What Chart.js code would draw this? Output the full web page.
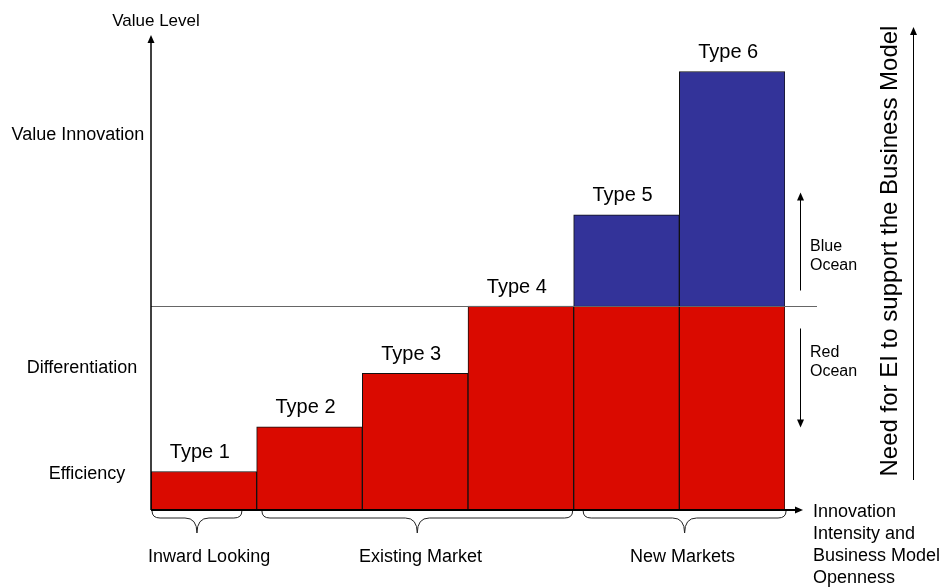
<!DOCTYPE html>
<html>
<head>
<meta charset="utf-8">
<script src="https://cdn.jsdelivr.net/npm/chart.js@4.4.1/dist/chart.umd.min.js"></script>
<style>
  html, body { margin: 0; padding: 0; background: #fff; }
  .wrap { position: relative; width: 943px; height: 588px; }
</style>
</head>
<body>
<div class="wrap"><canvas class="chart"></canvas></div>
<script>
// categories and stacked values (value-level units, 0..100)
const types = ['Type 1', 'Type 2', 'Type 3', 'Type 4', 'Type 5', 'Type 6'];
const redOcean = [8.2, 17.7, 29.1, 43.4, 43.4, 43.4];
const blueOcean = [null, null, null, null, 19.4, 49.9];

// value level names on the vertical axis
const levelNames = ['Efficiency', 'Differentiation', 'Value Innovation'];
const levelValues = [7.7, 30.2, 79.8];
const oceanLine = 43.4;

// market groups under the horizontal axis (in category index units)
const groupNames = ['Inward Looking', 'Existing Market', 'New Markets'];
const groupFrom = [-0.49, 0.55, 3.59];
const groupTo = [0.36, 3.49, 5.51];
const groupLabelAt = [0.05, 2.05, 4.53];

const FONT = '"Liberation Sans", Arial, sans-serif';

function arrowHead(ctx, x, y, dir) {
    // dir: 'up', 'down', 'right'
    ctx.beginPath();
    if (dir === 'up') {
        ctx.moveTo(x, y); ctx.lineTo(x - 3.5, y + 8); ctx.lineTo(x + 3.5, y + 8);
    } else if (dir === 'down') {
        ctx.moveTo(x, y); ctx.lineTo(x - 3.5, y - 8); ctx.lineTo(x + 3.5, y - 8);
    } else {
        ctx.moveTo(x, y); ctx.lineTo(x - 8, y - 3.5); ctx.lineTo(x - 8, y + 3.5);
    }
    ctx.closePath();
    ctx.fill();
}

function line(ctx, x1, y1, x2, y2) {
    ctx.beginPath();
    ctx.moveTo(x1, y1);
    ctx.lineTo(x2, y2);
    ctx.stroke();
}

function brace(ctx, x1, x2, y0) {
    const mid = (x1 + x2) / 2, r = 8, y1 = y0 + 7, y2 = y0 + 22;
    ctx.beginPath();
    ctx.moveTo(x1, y0);
    ctx.quadraticCurveTo(x1, y1, x1 + r, y1);
    ctx.lineTo(mid - r - 4, y1);
    ctx.quadraticCurveTo(mid, y1, mid, y2);
    ctx.quadraticCurveTo(mid, y1, mid + r + 4, y1);
    ctx.lineTo(x2 - r, y1);
    ctx.quadraticCurveTo(x2, y1, x2, y0);
    ctx.stroke();
}

const decorations = {
    id: 'decorations',
    afterDatasetsDraw(chart) {
        const ctx = chart.ctx;
        const area = chart.chartArea;
        const xs = chart.scales.x;
        const ys = chart.scales.y;
        ctx.save();
        ctx.fillStyle = '#000';
        ctx.strokeStyle = '#000';

        // red / blue ocean separation line
        const yLine = Math.round(ys.getPixelForValue(oceanLine)) + 0.5;
        ctx.strokeStyle = '#666';
        ctx.lineWidth = 1;
        line(ctx, area.left, yLine, area.right + 32, yLine);

        // axes with arrows
        ctx.strokeStyle = '#000';
        ctx.lineWidth = 1.5;
        line(ctx, area.left, area.bottom, area.left, area.top - 2);
        arrowHead(ctx, area.left, area.top - 5, 'up');
        ctx.lineWidth = 2;
        line(ctx, area.left, area.bottom, area.right + 12, area.bottom);
        arrowHead(ctx, area.right + 18, area.bottom, 'right');

        // axis titles
        ctx.font = '17px ' + FONT;
        ctx.textAlign = 'center';
        ctx.textBaseline = 'middle';
        ctx.fillText('Value Level', area.left + 5, 21);

        ctx.font = '18px ' + FONT;
        const levelX = [87, 82, 78];
        levelNames.forEach((name, i) => {
            ctx.fillText(name, levelX[i], ys.getPixelForValue(levelValues[i]));
        });

        ctx.textAlign = 'left';
        ['Innovation', 'Intensity and', 'Business Model', 'Openness'].forEach((t, i) => {
            ctx.fillText(t, area.right + 28, area.bottom + 2 + i * 22);
        });

        // type labels above each stack
        ctx.font = '20px ' + FONT;
        ctx.textAlign = 'center';
        const meta = chart.getDatasetMeta(0);
        types.forEach((t, i) => {
            const total = redOcean[i] + (blueOcean[i] || 0);
            ctx.fillText(t, meta.data[i].x - 4, ys.getPixelForValue(total) - 19);
        });

        // group braces and labels
        ctx.lineWidth = 1;
        ctx.strokeStyle = '#222';
        ctx.font = '18px ' + FONT;
        groupNames.forEach((g, i) => {
            brace(ctx, xs.getPixelForValue(groupFrom[i]), xs.getPixelForValue(groupTo[i]), area.bottom + 1);
            ctx.fillText(g, xs.getPixelForValue(groupLabelAt[i]), area.bottom + 47);
        });

        // blue / red ocean arrows
        ctx.strokeStyle = '#000';
        ctx.lineWidth = 1;
        const ax = area.right + 15.5;
        line(ctx, ax, yLine - 16, ax, yLine - 108);
        arrowHead(ctx, ax, yLine - 114, 'up');
        line(ctx, ax, yLine + 22, ax, yLine + 114);
        arrowHead(ctx, ax, yLine + 121, 'down');
        ctx.font = '16px ' + FONT;
        ctx.textAlign = 'left';
        ctx.fillText('Blue', area.right + 25, yLine - 60);
        ctx.fillText('Ocean', area.right + 25, yLine - 41);
        ctx.fillText('Red', area.right + 25, yLine + 46);
        ctx.fillText('Ocean', area.right + 25, yLine + 65);

        // need for EI arrow and vertical caption
        line(ctx, 913.5, 480, 913.5, 34);
        arrowHead(ctx, 913.5, 27, 'up');
        ctx.save();
        ctx.translate(897, 251);
        ctx.rotate(-Math.PI / 2);
        ctx.font = '24px ' + FONT;
        ctx.textAlign = 'center';
        ctx.textBaseline = 'alphabetic';
        ctx.fillText('Need for EI to support the Business Model', 0, 0);
        ctx.restore();

        ctx.restore();
    }
};

document.addEventListener('DOMContentLoaded', function () {
    const chartCanvas = document.querySelector('.chart');
    new Chart(chartCanvas.getContext('2d'), {
        type: 'bar',
        data: {
            labels: types,
            datasets: [
                {
                    label: 'Red Ocean',
                    data: redOcean,
                    backgroundColor: '#DA0A00',
                    borderColor: '#111',
                    borderWidth: 1,
                    barPercentage: 1,
                    categoryPercentage: 1
                },
                {
                    label: 'Blue Ocean',
                    data: blueOcean,
                    backgroundColor: '#333399',
                    borderColor: '#111',
                    borderWidth: 1,
                    barPercentage: 1,
                    categoryPercentage: 1
                }
            ]
        },
        options: {
            responsive: true,
            maintainAspectRatio: false,
            animation: false,
            layout: { padding: { left: 151, right: 158, top: 40, bottom: 78 } },
            plugins: {
                legend: { display: false },
                tooltip: { enabled: false }
            },
            scales: {
                x: { stacked: true, display: false },
                y: { stacked: true, display: false, min: 0, max: 100 }
            }
        },
        plugins: [decorations]
    });
});
</script>
</body>
</html>
